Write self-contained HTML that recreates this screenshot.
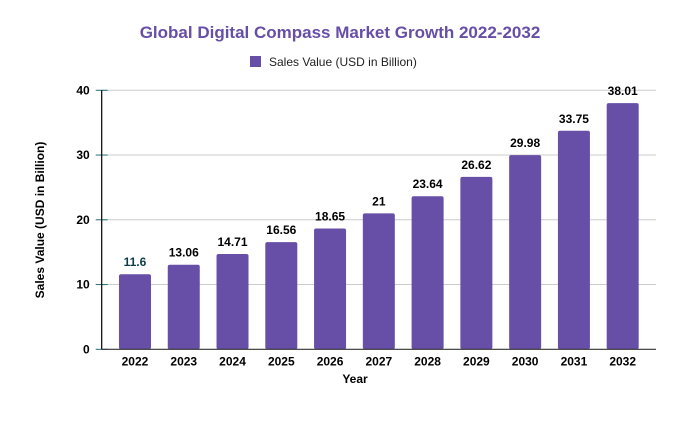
<!DOCTYPE html>
<html><head><meta charset="utf-8"><style>
body{margin:0;background:#fff;font-family:"Liberation Sans",Arial,sans-serif}
svg text{font-family:"Liberation Sans",Arial,sans-serif}
</style></head><body>
<svg id="c" width="677" height="416" viewBox="0 0 677 416" xmlns="http://www.w3.org/2000/svg">
<text x="340" y="38" text-anchor="middle" font-size="17" font-weight="bold" fill="#674ea7">Global Digital Compass Market Growth 2022-2032</text>
<g>
<rect x="250" y="56" width="11" height="11" fill="#674ea7"/>
<text x="269" y="66" font-size="12" fill="#222">Sales Value (USD in Billion)</text>
</g>
<g id="grid"></g><g id="bars"></g><g id="axes"></g>
<text x="355" y="383" text-anchor="middle" font-size="12" font-weight="bold" fill="#000">Year</text>
<text transform="translate(44,220) rotate(-90)" text-anchor="middle" font-size="12" font-weight="bold" fill="#000">Sales Value (USD in Billion)</text>
</svg>
<script>
const categories=["2022","2023","2024","2025","2026","2027","2028","2029","2030","2031","2032"];
const values=[11.6,13.06,14.71,16.56,18.65,21,23.64,26.62,29.98,33.75,38.01];
const yTicks=[0,10,20,30,40];
const NS="http://www.w3.org/2000/svg";
const y0=349.3,y1=90.3,yMax=40,axisX=101.7,gridR=656,x0=110.6,band=48.77,bw=32;
const y=v=>y0-(v/yMax)*(y0-y1);
const x=i=>x0+band*(i+0.5);
function mk(t,a,p){const e=document.createElementNS(NS,t);for(const k in a)e.setAttribute(k,a[k]);p.appendChild(e);return e;}
const g=document.getElementById('grid'),b=document.getElementById('bars'),ax=document.getElementById('axes');
yTicks.forEach(t=>{
 if(t>0){const l=mk('line',{x1:axisX,x2:gridR,y1:y(t),y2:y(t),stroke:'#ccc','stroke-width':1},g);
 
 }
 const tk=mk('line',{x1:axisX-6,x2:axisX+6,y1:y(t),y2:y(t),stroke:'#1f6f7a','stroke-width':1},ax);
 
 
 const tx=mk('text',{x:axisX-12,y:y(t)+4,'text-anchor':'end','font-size':12,'font-weight':'bold',fill:'#000'},ax);
 tx.textContent=t;
 
 
});
values.forEach((v,i)=>{
 const r=mk('rect',{x:x(i)-bw/2,y:y(v),width:bw,height:y0-y(v),rx:2,fill:'#674ea7'},b);
 
 
 const lt=mk('text',{x:x(i),y:y(v)-8,'text-anchor':'middle','font-size':12,'font-weight':'bold',fill:i===0?'#0c3b4a':'#000'},b);
 lt.textContent=v;
 
 
 const ct=mk('text',{x:x(i),y:y0+16,'text-anchor':'middle','font-size':12,'font-weight':'bold',fill:'#000'},ax);
 ct.textContent=categories[i];
 
 
});
const va=mk('line',{x1:axisX,x2:axisX,y1:y1,y2:y0,stroke:'#000','stroke-width':1.2},ax);


const ha=mk('line',{x1:axisX,x2:gridR,y1:y0,y2:y0,stroke:'#333','stroke-width':1.2},ax);


</script>
</body></html>
